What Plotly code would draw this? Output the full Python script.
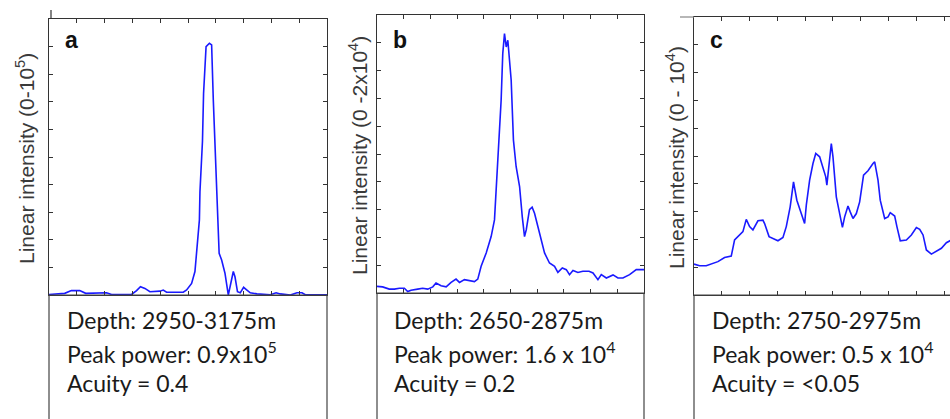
import plotly.graph_objects as go

W, H = 950, 419

# --- panel a: 2950-3175 m ---
a_x = [0, 5.65, 8.05, 11.06, 13.2, 20.7, 22.5, 29.7, 31.5, 32.9, 34.5, 36.3, 39.9, 41.1, 42.3,
       48.3, 49.5, 51.3, 52.5, 53.4, 54.1, 54.3, 55.2, 55.6, 56.5, 57.7, 58.5, 59.1, 60.1, 60.6,
       61.2, 62.1, 63.3, 64.5, 65.4, 66.3, 66.9, 67.8, 68.8, 70.0, 71.2, 72.4, 74.8, 79.6, 81.7,
       83.2, 86.8, 89.2, 91.0, 92.2, 100]
a_y = [0.02, 0.06, 0.16, 0.16, 0.06, 0.08, 0.02, 0.02, 0.16, 0.30, 0.24, 0.12, 0.14, 0.18, 0.10,
       0.10, 0.18, 0.42, 0.85, 1.75, 2.72, 3.74, 5.56, 7.31, 9.0, 9.12, 9.06, 7.07, 4.59, 2.84,
       1.51, 1.27, 0.79, 0.0, 0.42, 0.85, 0.66, 0.12, 0.08, 0.28, 0.18, 0.08, 0.04, 0.01, 0.08,
       0.04, 0.0, 0.08, 0.08, 0.01, 0.01]

# --- panel b: 2650-2875 m ---
b_x = [0, 2.1, 4.6, 6.5, 8.4, 10.25, 11.5, 12.75, 15.25, 17.1, 19, 20.9, 22.1, 24, 25.9, 27.75,
       29.6, 30.9, 32.75, 34.6, 36.5, 37.75, 39, 40.9, 42.75, 44, 44.6, 45.6, 46.5, 47.1, 47.75,
       48.4, 49, 50.25, 51.1, 52.1, 53.4, 54.4, 55.25, 55.9, 56.5, 57.1, 58.1, 59, 60.25, 61.5,
       62.75, 64.6, 66.5, 67.75, 69.4, 70.9, 72.1, 73.4, 75.25, 77.1, 79.4, 80.9, 82.75, 84,
       85.9, 88.4, 90.25, 92.1, 94.6, 97.1, 100]
b_y = [0.24, 0.22, 0.14, 0.14, 0.17, 0.17, 0.05, 0.10, 0.14, 0.17, 0.14, 0.22, 0.36, 0.26, 0.22,
       0.38, 0.50, 0.38, 0.48, 0.45, 0.41, 0.50, 0.96, 1.44, 2.03, 2.63, 3.59, 5.14, 6.94, 8.61,
       9.33, 8.85, 9.09, 7.66, 5.50, 4.55, 3.83, 2.75, 2.03, 2.27, 2.63, 3.0, 3.09, 2.87, 2.39,
       1.91, 1.44, 1.08, 0.96, 0.74, 0.90, 0.84, 0.66, 0.81, 0.74, 0.78, 0.78, 0.72, 0.48, 0.66,
       0.54, 0.65, 0.54, 0.54, 0.66, 0.84, 0.84]

# --- panel c: 2750-2975 m ---
c_x = [0, 2.0, 4.4, 6.8, 8.6, 11.0, 13.4, 14.6, 15.8, 17.6, 18.8, 20.0, 21.2, 23.0, 24.8, 25.4,
       27.0, 28.4, 30.2, 32.0, 33.2, 34.6, 35.8, 37.0, 38.6, 39.8, 40.4, 41.6, 42.8, 43.8, 45.2,
       46.4, 47.4, 47.8, 48.6, 49.4, 50.0, 51.2, 52.4, 53.4, 54.2, 55.4, 56.2, 57.2, 58.4, 59.6,
       61.0, 62.6, 64.4, 65.0, 66.2, 67.0, 68.6, 69.8, 70.6, 72.2, 73.0, 74.2, 76.4, 78.2, 80.0,
       81.2, 82.4, 83.6, 85.4, 87.2, 89.0, 90.8, 92.0, 93.0]
c_y = [1.11, 1.05, 1.05, 1.14, 1.20, 1.35, 1.40, 1.98, 2.10, 2.28, 2.72, 2.46, 2.34, 2.67, 2.69,
       2.57, 2.10, 2.04, 1.95, 2.07, 2.46, 3.17, 4.07, 3.41, 2.93, 2.57, 3.23, 4.13, 4.73, 5.09,
       4.97, 4.61, 4.25, 3.95, 4.73, 5.45, 4.97, 3.53, 2.93, 2.43, 2.81, 3.20, 2.99, 2.75, 2.93,
       3.35, 4.31, 4.47, 4.73, 4.79, 4.13, 3.41, 2.75, 2.81, 2.96, 2.84, 2.46, 1.95, 1.98, 2.16,
       2.43, 2.36, 2.16, 1.62, 1.47, 1.56, 1.68, 1.88, 1.95, 2.0]

panel_letters = ["a", "b", "c"]
y_titles = ["Linear intensity (0-10<sup>5</sup>)",
            "Linear intensity (0 -2x10<sup>4</sup>)",
            "Linear intensity (0 - 10<sup>4</sup>)"]
depths = ["Depth: 2950-3175m", "Depth: 2650-2875m", "Depth: 2750-2975m"]
peaks = ["Peak power: 0.9x10<sup>5</sup>", "Peak power: 1.6 x 10<sup>4</sup>",
         "Peak power: 0.5 x 10<sup>4</sup>"]
acuities = ["Acuity = 0.4", "Acuity = 0.2", "Acuity = <0.05"]

# pixel frames of each plot box: left, right, top, bottom
frames = [(49, 327, 19, 295), (377, 644, 15, 293), (694, 950, 17, 295)]
x_ranges = [[0, 100], [0, 100], [0, 92.1]]


def px(x):
    return x / W


def py(y):
    return 1 - y / H


series = [(a_x, a_y), (b_x, b_y), (c_x, c_y)]
fig = go.Figure()
FRAME = "#333333"

for i, ((xs, ys), (l, r, t, b)) in enumerate(zip(series, frames)):
    n = "" if i == 0 else str(i + 1)
    fig.add_trace(go.Scatter(x=xs, y=ys, mode="lines",
                             line=dict(color="#1a1aff", width=1.6),
                             xaxis="x" + n, yaxis="y" + n, showlegend=False,
                             hoverinfo="skip"))
    common = dict(showgrid=False, zeroline=False, showticklabels=False,
                  ticks="inside", ticklen=4, tickwidth=1.2, tickcolor=FRAME,
                  showline=True, linecolor=FRAME, linewidth=1.3)
    fig.layout["xaxis" + n] = dict(domain=[px(l), px(r)], range=x_ranges[i], dtick=10,
                                   tick0=0, mirror="ticks", anchor="y" + n, **common)
    fig.layout["yaxis" + n] = dict(domain=[py(b), py(t)], range=[0, 10], dtick=1, tick0=0,
                                   mirror="ticks" if i < 2 else False,
                                   anchor="x" + n, **common)

    # text box under each plot
    fig.add_shape(type="rect", xref="paper", yref="paper",
                  x0=px(l), x1=px(r + (20 if i == 2 else 0)), y0=py(b), y1=py(440),
                  line=dict(color="#444444", width=1.2))

    # panel letter
    fig.add_annotation(text="<b>%s</b>" % panel_letters[i], xref="paper", yref="paper",
                       x=px(l + 14), y=py(40), xanchor="left", yanchor="middle",
                       showarrow=False,
                       font=dict(family="Liberation Sans", size=23, color="#111111"))

annot_font = dict(family="Liberation Sans", size=21, color="#3a3a3a")
title_x = [25, 358, 675]
for i, (l, r, t, b) in enumerate(frames):
    fig.add_annotation(text=y_titles[i], textangle=-90, xref="paper", yref="paper",
                       x=px(title_x[i]), y=py((t + b) / 2 + 2), xanchor="center",
                       yanchor="middle", showarrow=False, font=annot_font)

box_font = dict(family="Lato", size=23, color="#1a1a1a")
text_left = [65, 392, 710]
for i in range(3):
    for txt, yc in zip([depths[i], peaks[i], acuities[i]], [320, 352, 383]):
        fig.add_annotation(text=txt, xref="paper", yref="paper", x=px(text_left[i]),
                           y=py(yc), xanchor="left", yanchor="middle", showarrow=False,
                           font=box_font)

# small stray marks at the panel corners
fig.add_shape(type="line", xref="paper", yref="paper", x0=px(51), x1=px(51),
              y0=py(10), y1=py(19), line=dict(color=FRAME, width=1.2))
fig.add_shape(type="line", xref="paper", yref="paper", x0=px(680), x1=px(694),
              y0=py(17), y1=py(17), line=dict(color="#888888", width=1.2))

fig.update_layout(width=W, height=H, margin=dict(l=0, r=0, t=0, b=0),
                  paper_bgcolor="white", plot_bgcolor="white")

fig.write_html("out.html")
